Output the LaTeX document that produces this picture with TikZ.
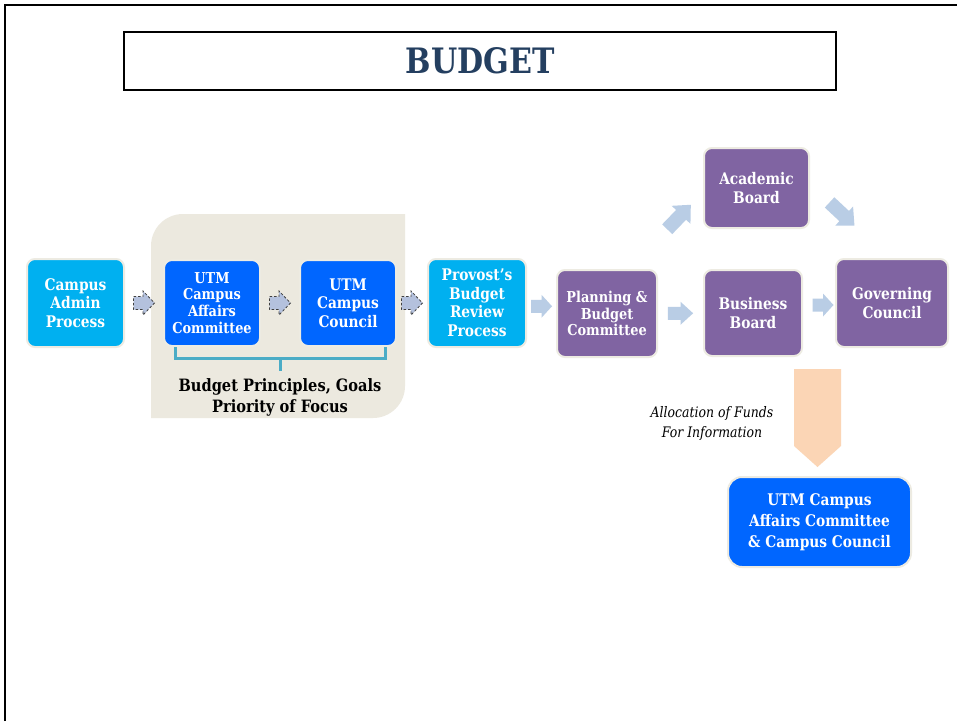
\documentclass[tikz,border=0pt]{standalone}
\usepackage{fontspec}
\newfontfamily\bx{DejaVu Serif}[FakeStretch=0.86]
\usetikzlibrary{calc}
\definecolor{cyanbox}{HTML}{00B0F0}
\definecolor{bluebox}{HTML}{0066FF}
\definecolor{purplebox}{HTML}{8064A2}
\definecolor{edgebox}{HTML}{EDEBE2}
\definecolor{bgpanel}{HTML}{ECE9DF}
\definecolor{dasharrfill}{HTML}{B4C1DD}
\definecolor{solidarrfill}{HTML}{B9CDE5}
\definecolor{peach}{HTML}{FBD5B5}
\definecolor{bracketteal}{HTML}{4BACC6}
\definecolor{titleblue}{HTML}{243F60}
\tikzset{
  box/.style={draw=edgebox, line width=2pt, rounded corners=8pt, text=white, align=center, inner sep=0pt},
  bigfont/.style={font=\bx\bfseries\fontsize{16}{18.5}\selectfont},
  smallfont/.style={font=\bx\bfseries\fontsize{15}{16.8}\selectfont},
  dashstyle/.style={fill=dasharrfill, draw=black!75, line width=0.8pt, dash pattern=on 2.5pt off 2pt},
  solidstyle/.style={fill=solidarrfill},
  bracket/.style={draw=bracketteal, line width=3pt},
  dasharr/.pic={\path[pic actions] (-10.5,-6.5) -- (-1,-6.5) -- (-1,-12) -- (10.5,0) -- (-1,12) -- (-1,6.5) -- (-10.5,6.5) -- cycle;},
  solidarr/.pic={\path[pic actions] (-10.5,-6.5) -- (0,-6.5) -- (0,-11.5) -- (10.5,0) -- (0,11.5) -- (0,6.5) -- (-10.5,6.5) -- cycle;},
  diagarr/.pic={\path[pic actions] (-17,-7) -- (3,-7) -- (3,-13) -- (17,0) -- (3,13) -- (3,7) -- (-17,7) -- cycle;}
}
\begin{document}
\begin{tikzpicture}[x=1pt,y=-1pt]
\useasboundingbox (0,0) rectangle (957,721);
\fill[white] (0,0) rectangle (957,721);
% outer frame
\draw[line width=2pt] (5,721) -- (5,5) -- (957,5);
% title
\node[draw, line width=2.2pt, minimum width=712pt, minimum height=58pt, inner sep=0pt,
      text=titleblue, font=\bx\bfseries\fontsize{35}{40}\selectfont] (title) at (480,61) {BUDGET};
% background panel
\fill[bgpanel] (151,418) -- (151,246) arc[start angle=180, end angle=270, radius=32]
   -- (405,214) -- (405,386) arc[start angle=0, end angle=90, radius=32] -- cycle;
% boxes
\node[box, bigfont, fill=cyanbox, minimum width=97pt, minimum height=88pt] (camp) at (75.5,303) {Campus\\Admin\\Process};
\node[box, smallfont, fill=bluebox, minimum width=96pt, minimum height=86pt] (cac) at (212,303) {UTM\\Campus\\Affairs\\Committee};
\node[box, bigfont, fill=bluebox, minimum width=96pt, minimum height=86pt] (council) at (348,303) {UTM\\Campus\\Council};
\node[box, bigfont, fill=cyanbox, minimum width=98pt, minimum height=88pt] (prov) at (477,303) {Provost’s\\Budget\\Review\\Process};
\node[box, smallfont, fill=purplebox, minimum width=100pt, minimum height=87pt] (plan) at (607,313.5) {Planning \&\\Budget\\Committee};
\node[box, bigfont, fill=purplebox, minimum width=105pt, minimum height=80pt] (acad) at (756.5,188) {Academic\\Board};
\node[box, bigfont, fill=purplebox, minimum width=98pt, minimum height=86pt] (bus) at (753,313) {Business\\Board};
\node[box, bigfont, fill=purplebox, minimum width=112pt, minimum height=88pt] (gov) at (892,303) {Governing\\Council};
\node[box, fill=bluebox, rounded corners=14pt, minimum width=183pt, minimum height=90pt,
      font=\bx\bfseries\fontsize{16}{21}\selectfont] (ubot) at (819.5,522) {UTM Campus\\Affairs Committee\\\& Campus Council};
% bracket
\coordinate (brmid) at (280,358);
\draw[bracket] ([xshift=12pt]cac.south west) |- (brmid) -| ([xshift=-12pt]council.south east);
\draw[bracket] (brmid) -- ++(0,13);
\node[font=\bx\bfseries\fontsize{17}{21}\selectfont, align=center] (princ) at (280,397) {Budget Principles, Goals\\Priority of Focus};
% dashed block arrows
\pic[dashstyle] at ($(camp.east)!0.5!(cac.west)$) {dasharr};
\pic[dashstyle] at ($(cac.east)!0.5!(council.west)$) {dasharr};
\pic[dashstyle] at ($(council.east)!0.5!(prov.west)$) {dasharr};
% solid block arrows
\pic[solidstyle] at ($(prov.east)!0.5!(plan.west) + (0,-2)$) {solidarr};
\begin{scope}[shift={($(plan.east)!0.5!(bus.west)$)}, xscale=1.2]
\pic[solidstyle, transform shape] at (0,0) {solidarr};
\end{scope}
\pic[solidstyle] at ($(bus.east)!0.5!(gov.west) + (4,-3)$) {solidarr};
\begin{scope}[shift={(679,217)}, rotate=46]
\pic[solidstyle, transform shape] at (0,0) {diagarr};
\end{scope}
\begin{scope}[shift={(842,214)}, rotate=-43]
\pic[solidstyle, transform shape] at (0,0) {diagarr};
\end{scope}
% allocation arrow
\fill[peach] (794,369) -- (841,369) -- (841,446) -- ([xshift=-2pt,yshift=9pt]ubot.north) -- (794,446) -- cycle;
\node[font=\bx\itshape\fontsize{14.5}{20}\selectfont, align=center] (alloc) at (712,423) {Allocation of Funds\\For Information};
\end{tikzpicture}
\end{document}
